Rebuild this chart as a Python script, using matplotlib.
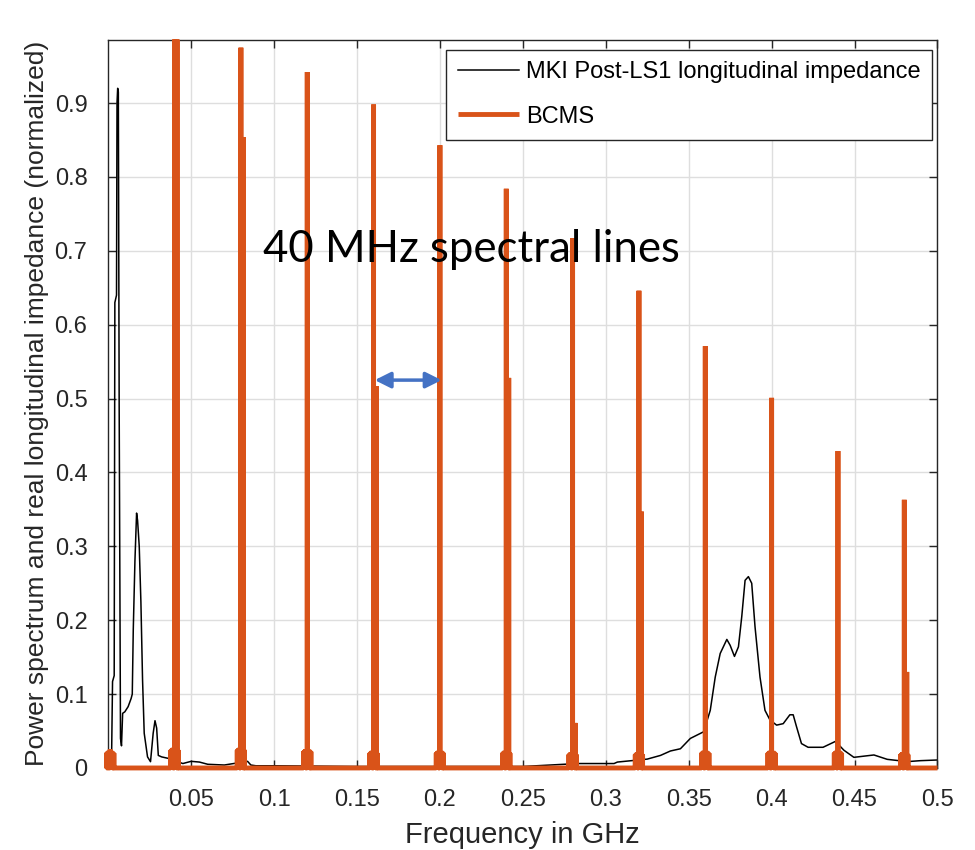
import matplotlib
matplotlib.use("Agg")
import matplotlib.pyplot as plt

plt.rcParams['font.family'] = ['Liberation Sans', 'DejaVu Sans']

# MKI post-LS1 real longitudinal impedance (normalized)
mki_freq = [0.0005, 0.0020, 0.0026, 0.0036, 0.0040, 0.0050, 0.0053, 0.0057, 0.0061,
            0.0066, 0.0074, 0.0080, 0.0087, 0.0100, 0.0120, 0.0138, 0.0145, 0.0151,
            0.0161, 0.0171, 0.0177, 0.0187, 0.0197, 0.0207, 0.0217, 0.0237, 0.0255,
            0.0271, 0.0282, 0.0292, 0.0302, 0.0322, 0.0362, 0.040, 0.045, 0.050,
            0.055, 0.060, 0.070, 0.084, 0.086, 0.089, 0.100, 0.150, 0.200, 0.250,
            0.283, 0.305, 0.307, 0.325, 0.333, 0.339, 0.345, 0.351, 0.359, 0.363,
            0.366, 0.369, 0.373, 0.375, 0.3776, 0.380, 0.382, 0.384, 0.386, 0.388,
            0.390, 0.393, 0.396, 0.399, 0.403, 0.407, 0.411, 0.413, 0.415, 0.418,
            0.422, 0.431, 0.4385, 0.4436, 0.4496, 0.4617, 0.4697, 0.4818, 0.4898,
            0.500]
mki_real = [0.005, 0.010, 0.117, 0.125, 0.630, 0.640, 0.900, 0.920, 0.915,
            0.490, 0.040, 0.030, 0.074, 0.076, 0.083, 0.094, 0.100, 0.187,
            0.280, 0.345, 0.335, 0.300, 0.225, 0.119, 0.047, 0.015, 0.0085,
            0.047, 0.064, 0.054, 0.017, 0.015, 0.013, 0.010, 0.006, 0.009,
            0.008, 0.005, 0.004, 0.009, 0.004, 0.003, 0.003, 0.002, 0.002, 0.002,
            0.006, 0.006, 0.008, 0.012, 0.017, 0.023, 0.026, 0.040, 0.049, 0.078,
            0.123, 0.155, 0.174, 0.166, 0.151, 0.164, 0.205, 0.254, 0.259, 0.250,
            0.191, 0.123, 0.078, 0.065, 0.058, 0.060, 0.072, 0.072, 0.056, 0.033,
            0.028, 0.028, 0.036, 0.024, 0.0144, 0.0176, 0.0117, 0.0086, 0.0099,
            0.0108]

# BCMS power spectrum: 40 MHz lines (main line, small side line, base cluster)
line_freq = [0.0012, 0.04, 0.08, 0.12, 0.16, 0.20, 0.24, 0.28, 0.32, 0.36, 0.40, 0.44, 0.48]
line_peak = [0.025, 0.986, 0.975, 0.942, 0.898, 0.843, 0.784, 0.717, 0.646, 0.571, 0.501, 0.429, 0.363]
side_peak = [0.020, 0.986, 0.854, 0.020, 0.517, 0.020, 0.528, 0.061, 0.347, 0.020, 0.020, 0.020, 0.130]
base_peak = [0.020, 0.024, 0.024, 0.022, 0.020, 0.020, 0.020, 0.018, 0.018, 0.020, 0.020, 0.020, 0.018]

# build the BCMS trace from the arrays above
bx, by = [0.0], [0.0]
for f, h, s, c in zip(line_freq, line_peak, side_peak, base_peak):
    w = 0.0022
    # filled base cluster drawn as close strokes
    for k in range(5):
        xk = f - w + k * w / 2
        bx += [xk, xk]
        by += [0, c] if k % 2 == 0 else [c, 0]
    bx += [f - w, f - w, f, f, f, f + 0.0015, f + 0.0015, f + 0.0015, f + w, f + w]
    by += [0, c, c, h, c, c, s, c, c, 0]
bx.append(0.5)
by.append(0.0)

fig = plt.figure(figsize=(9.75, 8.5), dpi=100)
ax = fig.add_axes([0.111, 0.0965, 0.8505, 0.857])

ax.plot(mki_freq, mki_real, color='black', lw=1.1,
        label='MKI Post-LS1 longitudinal impedance', zorder=2)
ax.plot(bx, by, color='#D95319', lw=3.5, solid_joinstyle='bevel', solid_capstyle='butt',
        label='BCMS', zorder=3, clip_on=False)

ax.set_xlim(0, 0.5)
ax.set_ylim(0, 0.986)
ax.set_xticks([0.05, 0.1, 0.15, 0.2, 0.25, 0.3, 0.35, 0.4, 0.45, 0.5])
ax.set_xticklabels(['0.05', '0.1', '0.15', '0.2', '0.25', '0.3', '0.35', '0.4', '0.45', '0.5'])
ax.set_yticks([0, 0.1, 0.2, 0.3, 0.4, 0.5, 0.6, 0.7, 0.8, 0.9])
ax.set_yticklabels(['0', '0.1', '0.2', '0.3', '0.4', '0.5', '0.6', '0.7', '0.8', '0.9'])
ax.grid(True, color='#dedede', lw=1.0)
ax.set_axisbelow(True)
ax.tick_params(direction='in', length=6, width=1, colors='#262626', labelsize=17,
               top=True, right=True)
ax.tick_params(axis='x', pad=15)
ax.tick_params(axis='y', pad=15)
for sp in ax.spines.values():
    sp.set_color('#262626')
    sp.set_linewidth(1.0)

ax.set_xlabel('Frequency in GHz', fontsize=21, color='#262626', labelpad=7)
ax.set_ylabel('Power spectrum and real longitudinal impedance (normalized)',
              fontsize=19, color='#262626', labelpad=4)

leg = ax.legend(loc='upper right', bbox_to_anchor=(0.994, 0.9863), borderaxespad=0,
                fontsize=17, frameon=True, fancybox=False, edgecolor='#262626',
                framealpha=1, handlelength=2.6, borderpad=0.5, labelspacing=0.95,
                handletextpad=0.3)
leg.get_frame().set_linewidth(1.0)
leg.set_zorder(6)

ax.text(0.0935, 0.685, '40 MHz spectral lines', fontsize=31.5, family=['Lato', 'DejaVu Sans'],
        ha='left', va='baseline', color='black', zorder=5)
ax.annotate('', xy=(0.1607, 0.525), xytext=(0.2010, 0.525),
            arrowprops=dict(arrowstyle='<|-|>', color='#4472C4', lw=2.5,
                            mutation_scale=24, shrinkA=0, shrinkB=0), zorder=5)

fig.savefig('out.png', dpi=100)
plt.close(fig)
